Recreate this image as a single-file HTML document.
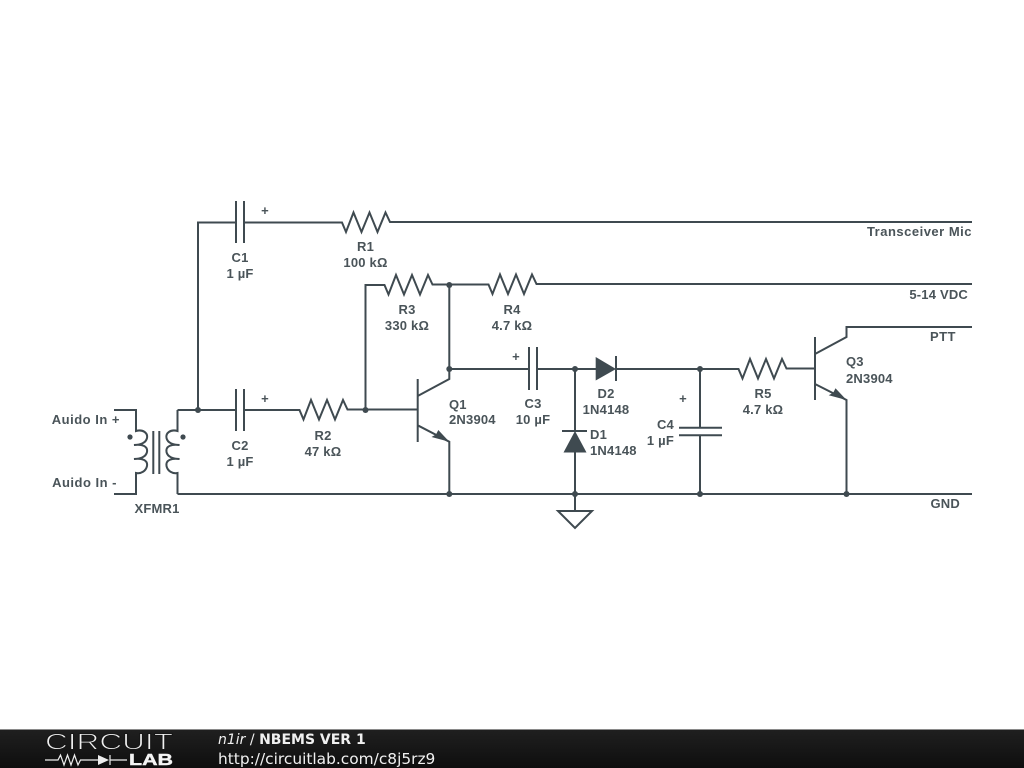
<!DOCTYPE html>
<html><head><meta charset="utf-8"><style>
html,body{margin:0;padding:0;background:#fff;width:1024px;height:768px;overflow:hidden}
svg{display:block}
.w{fill:none;stroke:#3f4a50;stroke-width:2;stroke-linejoin:miter}
.f{fill:#3f4a50;stroke:none}
.t{font-family:"Liberation Sans",sans-serif;font-size:13px;font-weight:bold;fill:#4a5459;letter-spacing:.2px}
.p{letter-spacing:.5px}
.m{text-anchor:middle}
.e{text-anchor:end}
</style></head><body>
<svg width="1024" height="768" viewBox="0 0 1024 768" xmlns="http://www.w3.org/2000/svg">
<defs><linearGradient id="g" x1="0" y1="0" x2="0" y2="1"><stop offset="0" stop-color="#202020"/><stop offset="1" stop-color="#0e0e0e"/></linearGradient></defs>
<rect width="1024" height="768" fill="#fff"/>
<g class="w">
<path d="M198 410V222.500H236M244 222.500H342l4 9.500 7.500-19.500 8 19.500 8-19.500 8 19.500 8-19.500 4.500 9.500H972"/>
<path d="M236 201V243M244 201V243"/>
<path d="M177.500 410H236M244 410H299.500l4 9.500 7.500-19.500 8 19.500 8-19.500 8 19.500 8-19.500 4.500 9.500H418"/>
<path d="M236 389V431M244 389V431"/>
<path d="M365.500 410V285H384.500l4 9.500 7.500-19.500 8 19.500 8-19.500 8 19.500 8-19.500 4.500 9.500H488.500l4 9.500 7.500-19.500 8 19.500 8-19.500 8 19.500 8-19.500 4.500 9.500H972"/>
<path d="M417.700 379V442M417.700 396L449.300 379V285M417.700 425.300L449.300 441.700V494"/>
<path d="M449.300 369H529M537 369H596M616 369H738.500l4 9.500 7.500-19.500 8 19.500 8-19.500 8 19.500 8-19.500 4.500 9.500H815"/>
<path d="M529 347V390M537 347V390"/>
<path d="M616 356V381"/>
<path d="M575 369V431M562 431H587M575 452V511"/>
<path d="M558 511H592L575 528Z"/>
<path d="M700 369V427.700M700 435.300V494M679 427.700H722M679 435.300H722"/>
<path d="M815 337V400M815 354L846.500 337V327H972M815 384L846.500 400V494"/>
<path d="M177.500 494H972"/>
<path d="M114 410H136V431C143 429 148 433 147 438C146 443 140 445 134 445C142 444 148 446 147 452C146 457 140 459 134 459C142 458 148 460 147 466C146 471 141 474 136 473V494H114"/>
<path d="M177.500 410V431C170.500 429 165.500 433 166.500 438C167.500 443 173.500 445 179.500 445C171.500 444 165.500 446 166.500 452C167.500 457 173.500 459 179.500 459C171.500 458 165.500 460 166.500 466C167.500 471 172.500 474 177.500 473V494"/>
<path d="M153.300 431V474M159.300 431V474"/>
</g>
<g class="f">
<path d="M449.300 441.700L431.500 437 436 434.500 438.300 430Z"/>
<path d="M846.500 400L828.700 395.300 833.200 392.800 835.500 388.300Z"/>
<path d="M595.700 357L616 369 595.700 380.500Z"/>
<path d="M575 431L586.500 452.500H563.500Z"/>
<circle cx="198" cy="410" r="3"/><circle cx="365.500" cy="410" r="3"/>
<circle cx="449.300" cy="285" r="3"/><circle cx="449.300" cy="369" r="3"/>
<circle cx="575" cy="369" r="3"/><circle cx="700" cy="369" r="3"/>
<circle cx="449.300" cy="494" r="3"/><circle cx="575" cy="494" r="3"/>
<circle cx="700" cy="494" r="3"/><circle cx="846.500" cy="494" r="3"/>
<circle cx="130" cy="437" r="2.600"/><circle cx="183" cy="437" r="2.600"/>
</g>
<g class="t">
<text x="240" y="262" class="m">C1</text><text x="240" y="278" class="m">1 µF</text>
<text x="265" y="215" class="m">+</text>
<text x="365.500" y="251" class="m">R1</text><text x="365.500" y="267" class="m">100 kΩ</text>
<text x="972" y="236" class="e p">Transceiver Mic</text>
<text x="407" y="314" class="m">R3</text><text x="407" y="330" class="m">330 kΩ</text>
<text x="512" y="314" class="m">R4</text><text x="512" y="330" class="m">4.7 kΩ</text>
<text x="968" y="299" class="e">5-14 VDC</text>
<text x="956" y="341" class="e p">PTT</text>
<text x="960" y="508" class="e">GND</text>
<text x="120" y="424" class="e p">Auido In +</text>
<text x="117" y="487" class="e p">Auido In -</text>
<text x="157" y="513" class="m">XFMR1</text>
<text x="240" y="450" class="m">C2</text><text x="240" y="466" class="m">1 µF</text>
<text x="265" y="403" class="m">+</text>
<text x="323" y="440" class="m">R2</text><text x="323" y="456" class="m">47 kΩ</text>
<text x="449" y="409">Q1</text><text x="449" y="424">2N3904</text>
<text x="516" y="361" class="m">+</text>
<text x="533" y="408" class="m">C3</text><text x="533" y="424" class="m">10 µF</text>
<text x="606" y="398" class="m">D2</text><text x="606" y="414" class="m">1N4148</text>
<text x="590" y="439">D1</text><text x="590" y="455">1N4148</text>
<text x="683" y="403" class="m">+</text>
<text x="674" y="429" class="e">C4</text><text x="674" y="445" class="e">1 µF</text>
<text x="763" y="398" class="m">R5</text><text x="763" y="414" class="m">4.7 kΩ</text>
<text x="846" y="366">Q3</text><text x="846" y="383">2N3904</text>
</g>
<rect y="729" width="1024" height="39" fill="url(#g)"/>
<rect y="729" width="1024" height="1" fill="#8a8a8a"/>
<g fill="none" stroke="#eee" stroke-width="1.200">
<path d="M45 760H58l2.500 -5 3.500 10 3.500 -10 3.500 10 3.500 -10 3.500 10 2.500 -5H98M110 760H127"/>
<path d="M110 755V765"/>
</g>
<path d="M98 755L109 760 98 765Z" fill="#eee"/>
<text x="45" y="749.500" font-family="Liberation Sans,sans-serif" font-size="23" fill="#f0f0f0" stroke="#171717" stroke-width=".9" paint-order="fill" textLength="128" lengthAdjust="spacingAndGlyphs">CIRCUIT</text>
<text x="129" y="765" font-family="Liberation Sans,sans-serif" font-size="15.500" font-weight="bold" fill="#f4f4f4" stroke="#f4f4f4" stroke-width=".4" textLength="44" lengthAdjust="spacingAndGlyphs">LAB</text>
<text x="218" y="744" font-family="DejaVu Sans,sans-serif" font-size="14" fill="#f0f0f0"><tspan font-style="italic">n1ir</tspan> / <tspan font-weight="bold">NBEMS VER 1</tspan></text>
<text x="218" y="764" font-family="DejaVu Sans,sans-serif" font-size="15.400" fill="#f0f0f0">http://circuitlab.com/c8j5rz9</text>
</svg>
</body></html>
